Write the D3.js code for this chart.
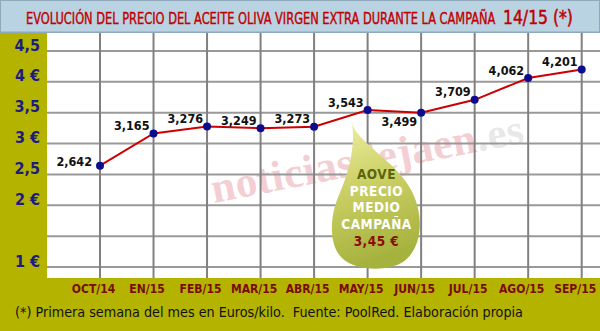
<!DOCTYPE html>
<html>
<head>
<meta charset="utf-8">
<script src="https://cdn.jsdelivr.net/npm/d3@7/dist/d3.min.js"></script>
<style>
  html, body { margin: 0; padding: 0; background: #fff; }
  svg { display: block; }
</style>
</head>
<body>
<svg id="chart" width="600" height="331"></svg>
<script>
// ---------- data ----------
const categories = ["OCT/14", "EN/15", "FEB/15", "MAR/15", "ABR/15", "MAY/15", "JUN/15", "JUL/15", "AGO/15", "SEP/15"];
const prices = [2.642, 3.165, 3.276, 3.249, 3.273, 3.543, 3.499, 3.709, 4.062, 4.201];
const yTicks = [1, 1.5, 2, 2.5, 3, 3.5, 4, 4.5];
const yTickLabels = ["1 €", "", "2 €", "2,5", "3 €", "3,5", "4 €", "4,5"];
const titleMain = "EVOLUCIÓN DEL PRECIO DEL ACEITE OLIVA VIRGEN EXTRA DURANTE LA CAMPAÑA";
const titleSeason = "14/15 (*)";
const footnote = "(*) Primera semana del mes en Euros/kilo.  Fuente: PoolRed. Elaboración propia";
const averageLines = ["AOVE", "PRECIO", "MEDIO", "CAMPAÑA", "3,45 €"];
const watermark = ["noticiasdejaen", ".es"];

// ---------- setup ----------
const W = 600, H = 331;
const svg = d3.select("#chart");
const FONT = "'DejaVu Sans Condensed', 'DejaVu Sans', sans-serif";
const OLIVE = "#b3b300";
const GRID = "#a2a2a2";
const plot = { left: 47, top: 33, right: 600, bottom: 278 };

const locale = d3.formatLocale({ decimal: ",", thousands: ".", grouping: [3], currency: ["", " €"] });
const fmt3 = locale.format(".3f");

const x = d3.scalePoint().domain(categories).range([100, 581.7]);
const y = d3.scaleLinear().domain([1, 4.5]).range([267, 51]);

function fittedText(parent, str, x0, y0, width, size, opts) {
  const g = parent.append("g");
  const t = g.append("text").attr("x", 0).attr("y", 0)
    .attr("font-family", FONT).attr("font-size", size)
    .style("white-space", "pre").text(str);
  Object.entries(opts || {}).forEach(([k, v]) => t.attr(k, v));
  const natural = t.node().getComputedTextLength();
  const sx = natural > 0 ? width / natural : 1;
  g.attr("transform", `translate(${x0},${y0}) scale(${sx},1)`);
  return t;
}

// backgrounds
svg.append("rect").attr("x", 0).attr("y", 0).attr("width", W).attr("height", H).attr("fill", OLIVE);
svg.append("rect").attr("x", plot.left).attr("y", plot.top)
  .attr("width", plot.right - plot.left).attr("height", plot.bottom - plot.top).attr("fill", "#fff");

// title bar
svg.append("rect").attr("x", 0).attr("y", 0).attr("width", W).attr("height", 33).attr("fill", "#8fa9bb");
svg.append("rect").attr("x", 1).attr("y", 1).attr("width", W - 2).attr("height", 30.5).attr("fill", "#b9d3e3");
fittedText(svg, titleMain, 26, 23.5, 470, 15,
  { fill: "#c00000", stroke: "#c00000", "stroke-width": 0.35 });
fittedText(svg, titleSeason, 503, 23.7, 70, 20,
  { fill: "#c00000", stroke: "#c00000", "stroke-width": 0.5 });

// axis labels
const yAxis = d3.axisLeft(y).tickValues(yTicks).tickSize(0)
  .tickFormat((d, i) => yTickLabels[i]);
const yg = svg.append("g").attr("transform", "translate(40,0)").call(yAxis);
yg.select(".domain").remove();
yg.selectAll("text").attr("font-family", FONT).attr("font-size", 16).attr("font-weight", "bold")
  .attr("fill", "#1c1c80").attr("x", 0).attr("dy", "-0.12em").attr("text-anchor", "end")
  .attr("y", 1);

const xAxis = d3.axisBottom(x).tickSize(0);
const xg = svg.append("g").attr("transform", `translate(-7,${plot.bottom})`).call(xAxis);
xg.select(".domain").remove();
xg.selectAll("text").attr("font-family", FONT).attr("font-size", 12).attr("font-weight", "bold")
  .attr("fill", "#7a0c0c").attr("y", 15).attr("dy", 0);

fittedText(svg, footnote, 15, 317, 508, 13.5, { fill: "#111" });

// watermark
const wm = svg.append("text")
  .attr("transform", "translate(214,203) rotate(-11)")
  .attr("font-family", "'Liberation Serif', 'DejaVu Serif', serif").attr("font-weight", "bold")
  .attr("font-size", 43).attr("letter-spacing", 0.5);
wm.append("tspan").attr("fill", "#eaa3ae").attr("fill-opacity", 0.55).text(watermark[0]);
wm.append("tspan").attr("fill", "#cccccc").attr("fill-opacity", 0.45).text(watermark[1]);

// gridlines (horizontal gray, vertical darker & wider)
svg.append("g").attr("class", "gridH").selectAll("line").data(yTicks).join("line")
  .attr("x1", plot.left).attr("x2", plot.right)
  .attr("y1", d => y(d)).attr("y2", d => y(d))
  .style("stroke", "#999999").style("stroke-width", "2px");
svg.append("g").attr("class", "gridV").selectAll("line").data(categories).join("line")
  .attr("x1", d => x(d)).attr("x2", d => x(d))
  .attr("y1", plot.top).attr("y2", plot.bottom)
  .style("stroke", "#808080").style("stroke-width", "2px");

// average price drop
const defs = svg.append("defs");
const grad = defs.append("linearGradient").attr("id", "dropGrad")
  .attr("x1", 0).attr("y1", 0).attr("x2", 0.2).attr("y2", 1);
grad.append("stop").attr("offset", "0%").attr("stop-color", "#eef0a6");
grad.append("stop").attr("offset", "45%").attr("stop-color", "#cdd166");
grad.append("stop").attr("offset", "100%").attr("stop-color", "#a6b23e");
svg.append("path")
  .attr("d", "M352,123 C357,142 394,160 410,188 C425,214 423,248 403,262 C387,272 355,271 342,258 C328,245 330,215 339,195 C347,176 356,150 352,123 Z")
  .attr("fill", "url(#dropGrad)");
svg.append("g").selectAll("text").data(averageLines).join("text")
  .attr("x", 376.5).attr("y", (d, i) => 179 + i * 16.7)
  .attr("text-anchor", "middle").attr("font-family", FONT).attr("font-weight", "bold")
  .attr("font-size", 13.5)
  .attr("fill", (d, i) => i === 0 ? "#5a6510" : (i === averageLines.length - 1 ? "#8b0a0a" : "#ffffff"))
  .attr("letter-spacing", 0.5)
  .text(d => d);

// series
const line = d3.line().x((d, i) => x(categories[i])).y(d => y(d));
svg.append("path").datum(prices).attr("d", line)
  .attr("fill", "none").attr("stroke", "#cc0000").attr("stroke-width", 2);
svg.append("g").selectAll("circle").data(prices).join("circle")
  .attr("cx", (d, i) => x(categories[i])).attr("cy", d => y(d)).attr("r", 4)
  .attr("fill", "#0c0c8c");

const below = new Set(["JUN/15"]);
svg.append("g").selectAll("text").data(prices).join("text")
  .attr("x", (d, i) => x(categories[i]) - (i === 0 ? 8 : 4))
  .attr("y", (d, i) => y(d) + (below.has(categories[i]) ? 13 : (i === 0 ? 0 : -3.5)))
  .attr("text-anchor", "end").attr("font-family", FONT).attr("font-weight", "bold")
  .attr("font-size", 12.5).attr("fill", "#111")
  .text(d => fmt3(d));
</script>
</body>
</html>
